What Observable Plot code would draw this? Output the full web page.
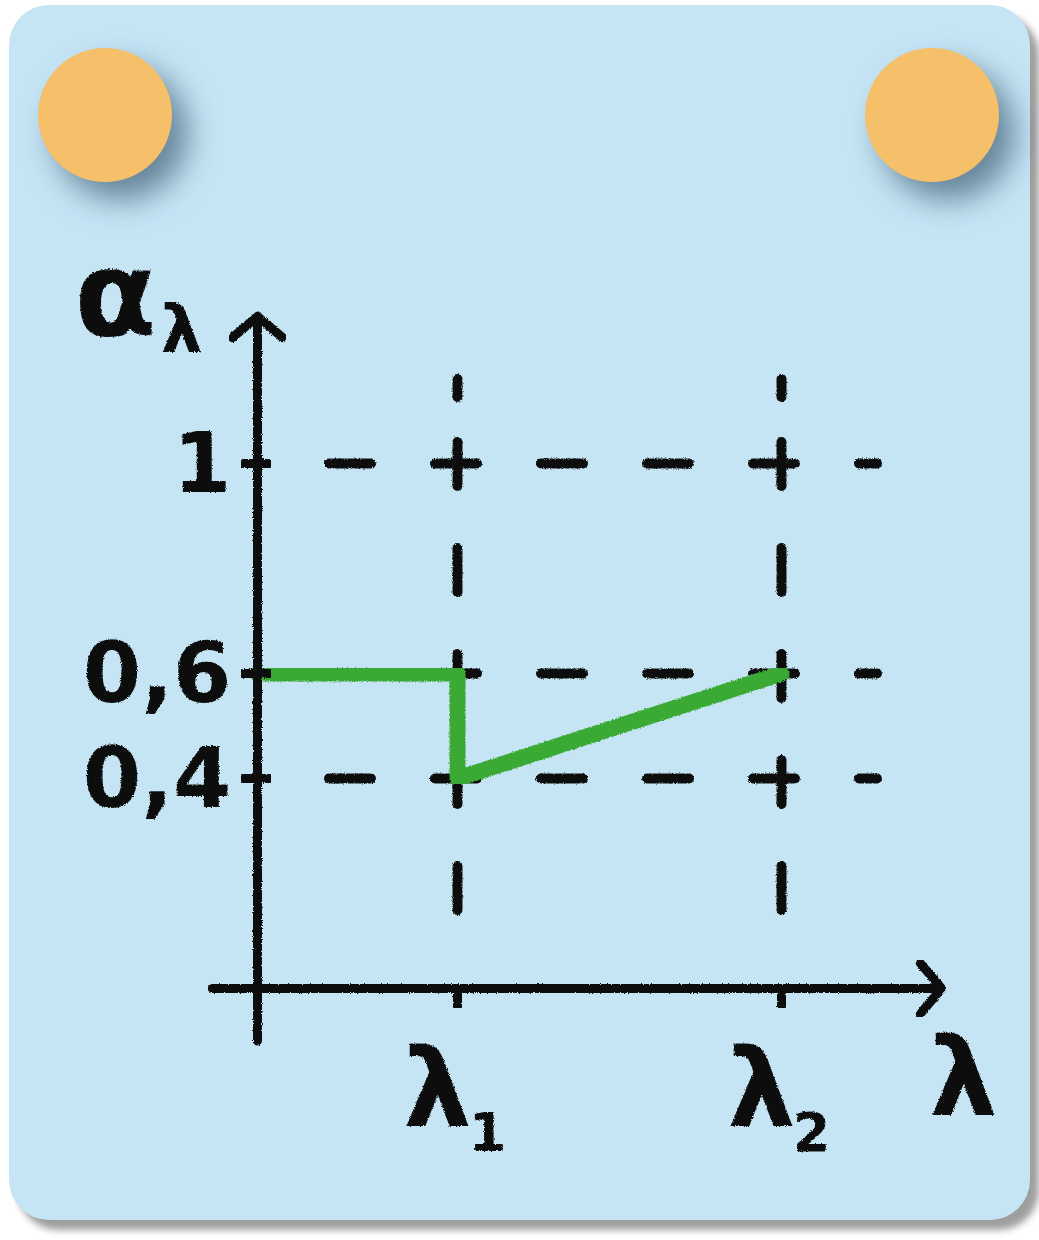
<!DOCTYPE html>
<html>
<head>
<meta charset="utf-8">
<script src="https://cdn.jsdelivr.net/npm/d3@7"></script>
<script src="https://cdn.jsdelivr.net/npm/@observablehq/plot@0.6"></script>
<style>
  html, body { margin: 0; padding: 0; background: #ffffff; width: 1039px; height: 1240px; overflow: hidden; }
  #card { position: absolute; left: 9px; top: 5px; width: 1021px; height: 1215px; border-radius: 40px;
          background: #c5e5f5; box-shadow: 9px 10px 7px rgba(0,0,0,0.38); }
  .pin { position: absolute; width: 134px; height: 134px; border-radius: 50%; background: #f6bf69;
         box-shadow: 16px 18px 30px rgba(40,70,95,0.6); }
  #chart { position: absolute; left: 0; top: 0; }
</style>
</head>
<body>
<div id="card"></div>
<div class="pin" style="left:38px; top:48px;"></div>
<div class="pin" style="left:865px; top:48px;"></div>
<div id="chart"></div>
<script>
// ---- data ----
const yTicks = [1, 0.6, 0.4];
const yTickLabels = ["1", "0,6", "0,4"];
const xTicks = [1, 2.62];             // λ1, λ2
const xTickNames = ["λ", "λ"];
const xTickSubs = ["1", "2"];
const lambdaValues = [0, 1, 1, 2.62];
const alphaValues = [0.6, 0.6, 0.4, 0.6];
const xAxisExtent = [-0.225, 3.42];
const yAxisExtent = [-0.1, 1.28];
const xAxisTitle = "λ";
const yAxisTitle = "α";
const yAxisTitleSub = "λ";

const series = lambdaValues.map((x, i) => ({x, y: alphaValues[i]}));
const ink = "#111111";

const svg = Plot.plot({
  width: 1039,
  height: 1240,
  x: {type: "linear", domain: [0, 1], range: [257, 457], axis: null},
  y: {type: "linear", domain: [0, 1], range: [988, 463], axis: null},
  style: {background: "transparent", overflow: "visible"},
  marks: [
    // dashed grid
    Plot.ruleY(yTicks, {y: d => d, x1: 0.36, x2: 3.1, stroke: ink, strokeWidth: 10,
      strokeDasharray: "42 64", strokeLinecap: "round"}),
    Plot.ruleX(xTicks, {x: d => d, y1: 1.16, y2: 0.11, stroke: ink, strokeWidth: 10,
      strokeDasharray: "18 45 44 62 44 62 44 62 44 62 44 62", strokeLinecap: "round"}),
    // green series
    Plot.line(series, {x: "x", y: "y", stroke: "#3aaa35", strokeWidth: 16,
      strokeLinecap: "round", strokeLinejoin: "round"}),
    // axes with arrows
    Plot.arrow([{x1: 0, y1: yAxisExtent[0], x2: 0, y2: yAxisExtent[1]}],
      {x1: "x1", y1: "y1", x2: "x2", y2: "y2", stroke: ink, strokeWidth: 9, headAngle: 100, headLength: 5.5,
       strokeLinecap: "round", strokeLinejoin: "round"}),
    Plot.arrow([{x1: xAxisExtent[0], y1: 0, x2: xAxisExtent[1], y2: 0}],
      {x1: "x1", y1: "y1", x2: "x2", y2: "y2", stroke: ink, strokeWidth: 9, headAngle: 100, headLength: 5.5,
       strokeLinecap: "round", strokeLinejoin: "round"}),
    // ticks
    Plot.ruleY(yTicks, {y: d => d, x1: -0.07, x2: 0.06, stroke: ink, strokeWidth: 9, strokeLinecap: "round"}),
    Plot.ruleX(xTicks, {x: d => d, y1: 0, y2: -0.035, stroke: ink, strokeWidth: 9, strokeLinecap: "round"}),
    // tick labels
    Plot.text(yTicks, {x: 0, y: d => d, text: (d, i) => yTickLabels[i], textAnchor: "end", dx: -26, dy: 2,
      fontSize: 84, fontWeight: "bold", fontFamily: "DejaVu Sans", fill: ink}),
    Plot.text(xTicks, {x: d => d, y: 0, text: (d, i) => xTickNames[i], dx: -20, dy: 103,
      fontSize: 108, fontFamily: "DejaVu Sans", fontWeight: "bold", fill: ink}),
    Plot.text(xTicks, {x: d => d, y: 0, text: (d, i) => xTickSubs[i], dx: 30, dy: 145,
      fontSize: 54, fontFamily: "DejaVu Sans", fontWeight: "bold", fill: ink}),
    // axis titles
    Plot.text([xAxisExtent[1]], {x: d => d, y: 0, text: [xAxisTitle], dx: 22, dy: 92,
      fontSize: 108, fontFamily: "DejaVu Sans", fontWeight: "bold", fill: ink}),
    Plot.text([yAxisExtent[1]], {x: 0, y: d => d, text: [yAxisTitle], dx: -142, dy: -20,
      fontSize: 120, fontFamily: "DejaVu Sans", fontWeight: "bold", fill: ink}),
    Plot.text([yAxisExtent[1]], {x: 0, y: d => d, text: [yAxisTitleSub], dx: -76, dy: 14,
      fontSize: 66, fontFamily: "DejaVu Sans", fontWeight: "bold", fill: ink})
  ]
});

// hand-drawn roughness
const ns = "http://www.w3.org/2000/svg";
const defs = document.createElementNS(ns, "defs");
defs.innerHTML = `<filter id="rough" x="-5%" y="-5%" width="110%" height="110%">
  <feTurbulence type="fractalNoise" baseFrequency="0.9" numOctaves="2" seed="3" result="n"/>
  <feDisplacementMap in="SourceGraphic" in2="n" scale="3" xChannelSelector="R" yChannelSelector="G"/>
</filter>`;
svg.insertBefore(defs, svg.firstChild);
svg.querySelectorAll(":scope > g").forEach(g => g.setAttribute("filter", "url(#rough)"));

document.getElementById("chart").appendChild(svg);
</script>
</body>
</html>
